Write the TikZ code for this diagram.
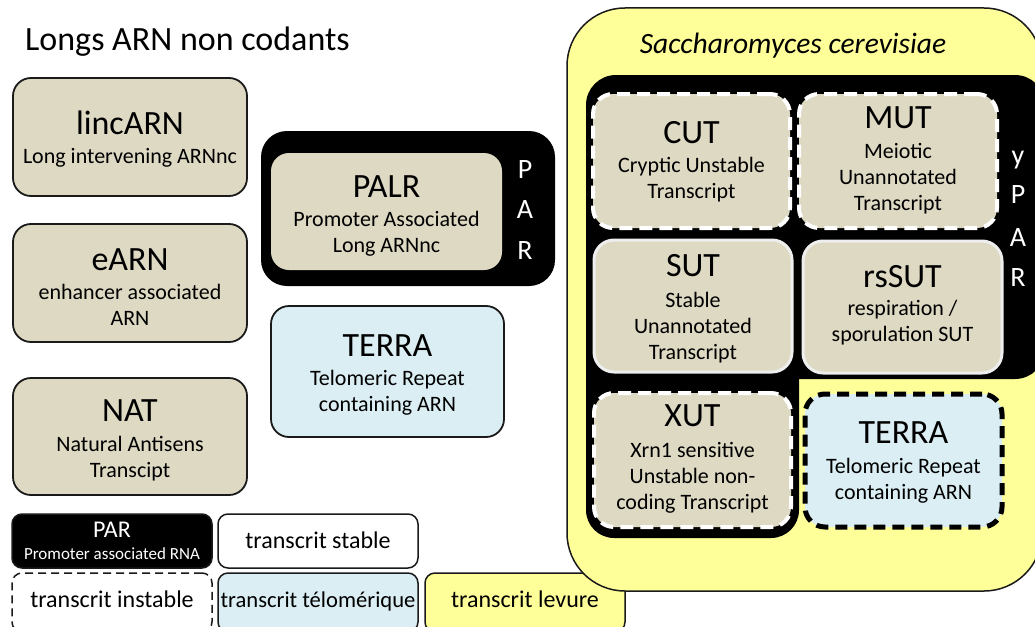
\documentclass[tikz,border=0pt]{standalone}
\usepackage{fontspec}
\setmainfont{Carlito}
\definecolor{beige}{HTML}{DDD9C3}
\definecolor{lblue}{HTML}{DAEEF3}
\definecolor{lyellow}{HTML}{FFFF99}
\definecolor{edge}{HTML}{1A1A1A}
\definecolor{soft}{HTML}{EEEEEE}
\tikzset{
  bx/.style={draw=edge, line width=1.8pt, rounded corners=18pt, fill=beige, inner sep=0pt},
  ybx/.style={rounded corners=20pt, fill=beige, inner sep=0pt},
  wdash/.style={draw=white, line width=4pt, dash pattern=on 13pt off 7pt},
  wsolid/.style={draw=soft, line width=3pt},
  bdash/.style={draw=black, line width=5pt, dash pattern=on 12pt off 7pt},
  lg/.style={draw=edge, line width=1.5pt, rounded corners=10pt, inner sep=0pt, minimum width=200pt},
  ttl/.style={font=\fontsize{34}{40}\selectfont, anchor=base, inner sep=0pt},
  sub/.style={font=\fontsize{22}{26}\selectfont, anchor=base, align=center, inner sep=0pt},
  lgt/.style={font=\fontsize{24}{28}\selectfont, anchor=base, inner sep=0pt},
  vlet/.style={font=\fontsize{28}{30}\selectfont, anchor=base, inner sep=0pt, text=white},
}
\begin{document}
\begin{tikzpicture}[x=1pt,y=-1pt]
\useasboundingbox (0,0) rectangle (1035,626);
\clip (0,0) rectangle (1035,626);
\fill[white] (0,0) rectangle (1035,626);

% title
\node[ttl, anchor=base west] (title) at (25,51) {Longs ARN non codants};

% left column (sub anchor = baseline of last line)
\node[bx, minimum width=234pt, minimum height=118pt] (linc) at (130,137) {};
\node[ttl] (lincT) at (130,134) {lincARN};
\node[sub] (lincS) at (130,163) {Long intervening ARNnc};

\node[bx, minimum width=234pt, minimum height=118pt] (earn) at (130,283) {};
\node[ttl] (earnT) at (130,270) {eARN};
\node[sub] (earnS) at (130,325) {enhancer associated\\ARN};

\node[bx, minimum width=234pt, minimum height=117pt] (nat) at (130,436.5) {};
\node[ttl] (natT) at (130,421) {NAT};
\node[sub] (natS) at (130,477) {Natural Antisens\\Transcipt};

% PAR
\node[fill=black, rounded corners=26pt, minimum width=294pt, minimum height=155pt, inner sep=0pt] (par) at (408,208.5) {};
\node[bx, draw=none, minimum width=231pt, minimum height=117pt] (palr) at (386.5,211.5) {};
\node[ttl] (palrT) at (386.5,197) {PALR};
\node[sub] (palrS) at (386.5,252) {Promoter Associated\\Long ARNnc};
\node[vlet] (parP) at (525,178) {P};
\node[vlet] (parA) at (525,218) {A};
\node[vlet] (parR) at (525,259) {R};

% TERRA left
\node[bx, fill=lblue, minimum width=233pt, minimum height=131pt] (terraL) at (387.5,371.5) {};
\node[ttl] (terraLT) at (387.5,356) {TERRA};
\node[sub] (terraLS) at (387.5,411) {Telomeric Repeat\\containing ARN};

% legend
\node[lg, fill=black, minimum height=54pt] (lgpar) at (112,541) {};
\node[lgt, text=white] (lgparT) at (112,537) {PAR};
\node[font=\fontsize{17}{20}\selectfont, anchor=base, inner sep=0pt, text=white] (lgparS) at (112,559) {Promoter associated RNA};
\node[lg, fill=white, minimum height=54pt] (lgstable) at (318,541) {};
\node[lgt] (lgstableT) at (318,548) {transcrit stable};
\node[lg, fill=white, dash pattern=on 8pt off 5pt, minimum height=59pt] (lginst) at (112,602.5) {};
\node[lgt] (lginstT) at (112,607) {transcrit instable};
\node[lg, fill=lblue, minimum height=59pt] (lgtelo) at (318,602.5) {};
\node[lgt, font=\fontsize{22.6}{27}\selectfont] (lgteloT) at (318,607) {transcrit télomérique};
\node[lg, fill=lyellow, minimum height=59pt] (lglev) at (525,602.5) {};
\node[lgt] (lglevT) at (525,607) {transcrit levure};

% yeast
\node[draw=edge, line width=1.5pt, fill=lyellow, rounded corners=58pt, minimum width=475pt, minimum height=583pt, inner sep=0pt] (yeast) at (804.5,299.5) {};
\node[font=\fontsize{29.5}{34}\selectfont\itshape, anchor=base, inner sep=0pt] (yeastT) at (793,54) {Saccharomyces cerevisiae};
\fill[black, rounded corners=30pt] (586,75) rectangle (1045,379);
\fill[black, rounded corners=28pt] (586,250) rectangle (799,538);
\node[vlet] (yparY) at (1018,164) {y};
\node[vlet] (yparP) at (1018,203) {P};
\node[vlet] (yparA) at (1018,246) {A};
\node[vlet] (yparR) at (1018,286) {R};

\node[ybx, wdash, minimum width=197pt, minimum height=134pt] (cut) at (691.5,161) {};
\node[ttl] (cutT) at (691.5,143) {CUT};
\node[sub] (cutS) at (691.5,198) {Cryptic Unstable\\Transcript};

\node[ybx, wdash, minimum width=198pt, minimum height=134pt] (mut) at (898,161) {};
\node[ttl] (mutT) at (898,128) {MUT};
\node[sub] (mutS) at (898,210) {Meiotic\\Unannotated\\Transcript};

\node[ybx, wsolid, minimum width=198pt, minimum height=132pt] (sut) at (693,306) {};
\node[ttl] (sutT) at (693,276) {SUT};
\node[sub] (sutS) at (693,359) {Stable\\Unannotated\\Transcript};

\node[ybx, wsolid, minimum width=199pt, minimum height=132pt] (rssut) at (902.5,307) {};
\node[ttl] (rssutT) at (902.5,287) {rsSUT};
\node[sub] (rssutS) at (902.5,341) {respiration /\\sporulation SUT};

\node[ybx, wdash, minimum width=197pt, minimum height=134pt] (xut) at (692.5,460) {};
\node[ttl] (xutT) at (692.5,426) {XUT};
\node[sub] (xutS) at (692.5,509) {Xrn1 sensitive\\Unstable non-\\coding Transcript};

\node[ybx, bdash, fill=lblue, minimum width=197pt, minimum height=133pt] (terraY) at (903.5,460.5) {};
\node[ttl] (terraYT) at (903.5,443) {TERRA};
\node[sub] (terraYS) at (903.5,499) {Telomeric Repeat\\containing ARN};
\end{tikzpicture}
\end{document}
